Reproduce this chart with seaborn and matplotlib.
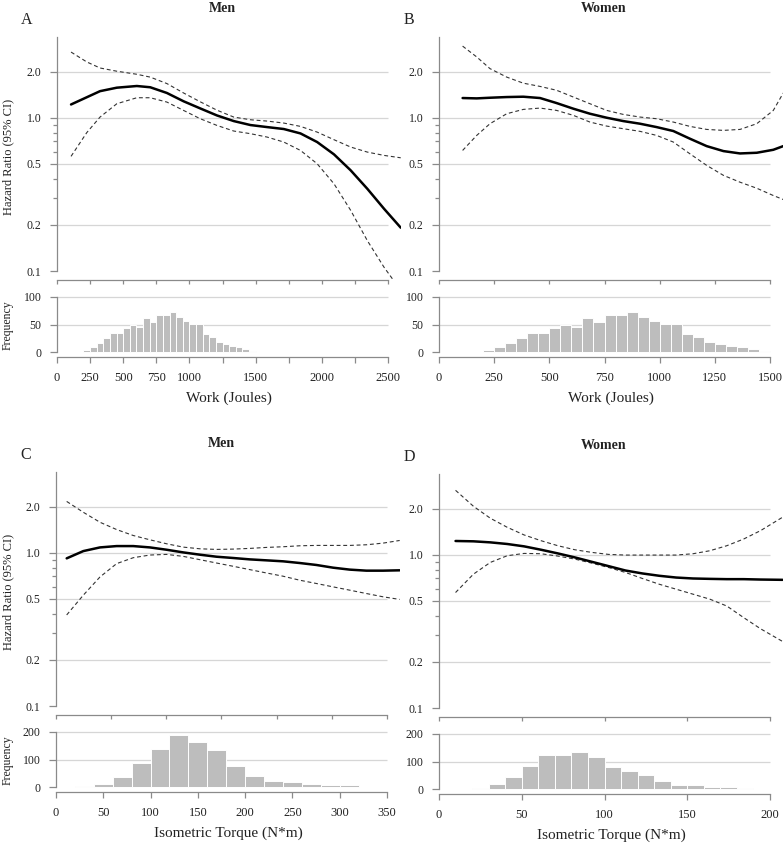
import numpy as np
import matplotlib
matplotlib.use("Agg")
import matplotlib.pyplot as plt
import seaborn as sns

# ---- values ----
# A: work, men
a_x = [106, 225, 325, 452, 603, 704, 830, 956, 1082, 1208, 1335, 1461, 1587, 1713, 1839, 1965, 2092, 2218, 2344, 2470, 2596]
a_hr = [1.22, 1.36, 1.49, 1.57, 1.61, 1.58, 1.45, 1.28, 1.15, 1.035, 0.951, 0.896, 0.869, 0.844, 0.790, 0.694, 0.577, 0.454, 0.344, 0.255, 0.192]
a_hi = [2.68, 2.31, 2.11, 2.01, 1.92, 1.84, 1.67, 1.45, 1.27, 1.12, 1.01, 0.97, 0.951, 0.923, 0.878, 0.806, 0.719, 0.644, 0.597, 0.568, 0.548]
a_lo = [0.560, 0.80, 1.01, 1.234, 1.35, 1.35, 1.265, 1.116, 0.985, 0.891, 0.819, 0.787, 0.748, 0.694, 0.612, 0.501, 0.371, 0.249, 0.158, 0.106, 0.075]

# B: work, women
b_x = [107, 171, 231, 307, 382, 458, 533, 609, 684, 760, 835, 911, 986, 1062, 1137, 1213, 1289, 1364, 1440, 1515, 1560]
b_hr = [1.344, 1.337, 1.35, 1.364, 1.371, 1.344, 1.246, 1.145, 1.062, 1.0, 0.951, 0.914, 0.869, 0.819, 0.730, 0.653, 0.606, 0.585, 0.591, 0.618, 0.653]
b_hi = [2.93, 2.49, 2.09, 1.84, 1.68, 1.60, 1.51, 1.364, 1.234, 1.116, 1.051, 1.01, 0.985, 0.937, 0.878, 0.839, 0.827, 0.839, 0.914, 1.116, 1.449]
b_lo = [0.612, 0.767, 0.914, 1.062, 1.133, 1.156, 1.116, 1.036, 0.937, 0.882, 0.848, 0.815, 0.767, 0.694, 0.582, 0.489, 0.421, 0.380, 0.347, 0.311, 0.293]

# C: isometric torque, men
c_x = [11.3, 28.9, 46.5, 64.1, 81.7, 99.3, 116.9, 134.5, 152.1, 169.7, 187.3, 204.9, 222.5, 240.1, 257.7, 275.4, 293, 310.6, 328.2, 345.8, 363.4]
c_hr = [0.919, 1.025, 1.083, 1.105, 1.105, 1.083, 1.046, 1.005, 0.971, 0.942, 0.924, 0.905, 0.892, 0.879, 0.857, 0.832, 0.799, 0.776, 0.764, 0.764, 0.768]
c_hi = [2.16, 1.835, 1.58, 1.416, 1.295, 1.214, 1.144, 1.088, 1.061, 1.051, 1.056, 1.067, 1.083, 1.094, 1.11, 1.116, 1.116, 1.116, 1.127, 1.155, 1.202]
c_lo = [0.393, 0.529, 0.695, 0.849, 0.928, 0.966, 0.975, 0.947, 0.901, 0.857, 0.816, 0.776, 0.738, 0.703, 0.662, 0.630, 0.599, 0.570, 0.542, 0.516, 0.496]

# D: isometric torque, women
d_x = [10, 20.8, 31, 41.2, 51.4, 61.6, 71.8, 82, 92.2, 102.4, 112.7, 122.9, 133.1, 143.3, 153.5, 163.7, 173.9, 184.1, 194.3, 207.6]
d_hr = [1.229, 1.223, 1.204, 1.175, 1.134, 1.078, 1.02, 0.961, 0.90, 0.843, 0.789, 0.755, 0.729, 0.710, 0.70, 0.696, 0.693, 0.693, 0.689, 0.686]
d_hi = [2.63, 2.07, 1.73, 1.51, 1.346, 1.235, 1.145, 1.078, 1.036, 1.005, 0.995, 0.995, 0.995, 0.995, 1.015, 1.062, 1.145, 1.266, 1.436, 1.756]
d_lo = [0.567, 0.747, 0.891, 0.985, 1.02, 1.015, 0.98, 0.937, 0.882, 0.826, 0.766, 0.70, 0.642, 0.596, 0.553, 0.513, 0.463, 0.389, 0.329, 0.272]

# histograms (bin left edges + counts)
work_bins = list(range(150, 1700, 50))
work_counts = [1, 3, 10, 16, 25, 34, 34, 44, 50, 46, 61, 54, 67, 68, 72, 64, 56, 51, 51,
               33, 28, 19, 15, 11, 10, 5, 2, 0, 1, 0, 1]
tm_bins = list(range(20, 320, 20))
tm_counts = [4, 12, 37, 89, 139, 190, 162, 136, 76, 39, 23, 19, 11, 8, 8]
tw_bins = list(range(20, 190, 10))
tw_counts = [3, 18, 45, 84, 122, 122, 133, 115, 81, 67, 50, 30, 15, 14, 9, 9, 3]

hr_ticks = [0.1, 0.2, 0.5, 1.0, 2.0]
hr_minor = [0.3, 0.4, 0.6, 0.7, 0.8, 0.9]

W, H = 784, 846
AXC = "#8a8a8a"
GRID = "#d6d6d6"
TXT = "#222222"

sns.set_theme(style="white")
plt.rcParams["font.family"] = ["Liberation Serif", "DejaVu Serif"]
plt.rcParams["axes.unicode_minus"] = False

fig = plt.figure(figsize=(W / 100, H / 100), dpi=100)
fig.patch.set_facecolor("white")


def px_axes(left, top, right, bottom):
    return fig.add_axes([left / W, 1 - bottom / H, (right - left) / W, (bottom - top) / H])


def style_spines(ax):
    for s in ("top", "right"):
        ax.spines[s].set_visible(False)
    for s in ("left", "bottom"):
        ax.spines[s].set_color(AXC)
        ax.spines[s].set_linewidth(0.9)
    ax.tick_params(which="both", direction="out", color=AXC, width=0.9, labelcolor=TXT,
                   left=True, bottom=True, top=False, right=False)


def panel(left, top, x, hr, lo, hi, bin_left, counts, bw, xmax, hz_xticks, h_xticks, h_xlabels,
          h_ymax, h_yticks, xlabel, title, letter, first_col):
    xr = xmax * 1.04
    right = left + 331 * 1.04
    # ---- hazard ratio plot ----
    ax = px_axes(left, top, right, top + 243)
    ax.set_yscale("log")
    ax.hlines([0.2, 0.5, 1.0, 2.0], 0, xmax, color=GRID, lw=0.9, zorder=0)
    sns.lineplot(x=x, y=hi, ax=ax, color="#333333", lw=0.8, linestyle=(0, (3.5, 2.5)), estimator=None)
    sns.lineplot(x=x, y=lo, ax=ax, color="#333333", lw=0.8, linestyle=(0, (3.5, 2.5)), estimator=None)
    sns.lineplot(x=x, y=hr, ax=ax, color="black", lw=1.8, estimator=None)
    ax.set_xlim(0, xr)
    ax.set_ylim(0.0875, 3.36)
    style_spines(ax)
    ax.spines["left"].set_bounds(0.1, 3.36)
    ax.spines["bottom"].set_bounds(0, xmax)
    ax.set_yticks(hr_ticks)
    ax.set_yticklabels(["0.1", "0.2", "0.5", "1.0", "2.0"], fontsize=8.5)
    ax.set_yticks(hr_minor, minor=True)
    ax.set_yticklabels([], minor=True)
    ax.set_xticks(hz_xticks)
    ax.set_xticklabels([])
    ax.tick_params(axis="x", which="minor", bottom=False)
    ax.tick_params(axis="y", which="major", length=5, pad=6)
    ax.tick_params(axis="y", which="minor", length=3)
    ax.tick_params(axis="x", which="major", length=3)
    ax.set_xlabel("")
    ax.set_ylabel("")

    # ---- histogram ----
    htop = top + 259
    hax = px_axes(left, htop, right, htop + 61)
    per_px = h_ymax / 56.0
    hax.hlines([v for v in h_yticks if v > 0], 0, xmax, color=GRID, lw=0.9, zorder=0)
    edges = list(bin_left) + [bin_left[-1] + bw]
    centers = [b + bw / 2 for b in bin_left]
    sns.histplot(x=centers, weights=counts, bins=edges, ax=hax, color="#bdbdbd",
                 edgecolor="white", linewidth=0.7, alpha=1.0, zorder=2)
    hax.set_xlim(0, xr)
    hax.set_ylim(-5 * per_px, h_ymax + 1 * per_px)
    style_spines(hax)
    hax.spines["left"].set_bounds(0, h_ymax)
    hax.spines["bottom"].set_bounds(0, xmax)
    hax.set_yticks(h_yticks)
    hax.set_yticklabels([str(v) for v in h_yticks], fontsize=8.5)
    hax.set_xticks(h_xticks)
    hax.set_xticklabels(h_xlabels, fontsize=9)
    hax.tick_params(axis="y", length=5, pad=6)
    hax.tick_params(axis="x", length=4, pad=7)
    hax.set_xlabel(xlabel, fontsize=11, color=TXT, labelpad=5)
    hax.set_ylabel("")

    # ---- texts ----
    cx = left + 165
    fig.text(cx / W, 1 - (top - 29) / H, title, ha="center", va="center",
             fontsize=10, fontweight="bold", color=TXT)
    fig.text((left - 30) / W, 1 - (top - 17) / H, letter, ha="center", va="center",
             fontsize=11.5, color=TXT)
    if first_col:
        fig.text(8 / W, 1 - (top + 120) / H, "Hazard Ratio (95% CI)", rotation=90,
                 ha="center", va="center", fontsize=9, color=TXT)
        fig.text(8 / W, 1 - (htop + 29) / H, "Frequency", rotation=90,
                 ha="center", va="center", fontsize=8.5, color=TXT)


work_ticks = list(range(0, 2501, 250))
work_labels = [str(t) if t in (0, 250, 500, 750, 1000, 1500, 2000, 2500) else "" for t in work_ticks]
panel(57, 37, a_x, a_hr, a_lo, a_hi, work_bins, work_counts, 50, 2500,
      work_ticks, work_ticks, work_labels, 100, [0, 50, 100],
      "Work (Joules)", "Men", "A", True)

wk2 = list(range(0, 1501, 250))
panel(439, 37, b_x, b_hr, b_lo, b_hi, work_bins, work_counts, 50, 1500,
      wk2, wk2, [str(t) for t in wk2], 100, [0, 50, 100],
      "Work (Joules)", "Women", "B", False)

tq = list(range(0, 351, 50))
panel(56, 472, c_x, c_hr, c_lo, c_hi, tm_bins, tm_counts, 20, 350,
      list(np.linspace(0, 350, 7)), tq, [str(t) for t in tq], 200, [0, 100, 200],
      "Isometric Torque (N*m)", "Men", "C", True)

tq2 = list(range(0, 201, 50))
panel(439, 474, d_x, d_hr, d_lo, d_hi, tw_bins, tw_counts, 10, 200,
      tq2, tq2, [str(t) for t in tq2], 200, [0, 100, 200],
      "Isometric Torque (N*m)", "Women", "D", False)

fig.savefig("out.png", dpi=100, facecolor="white")
